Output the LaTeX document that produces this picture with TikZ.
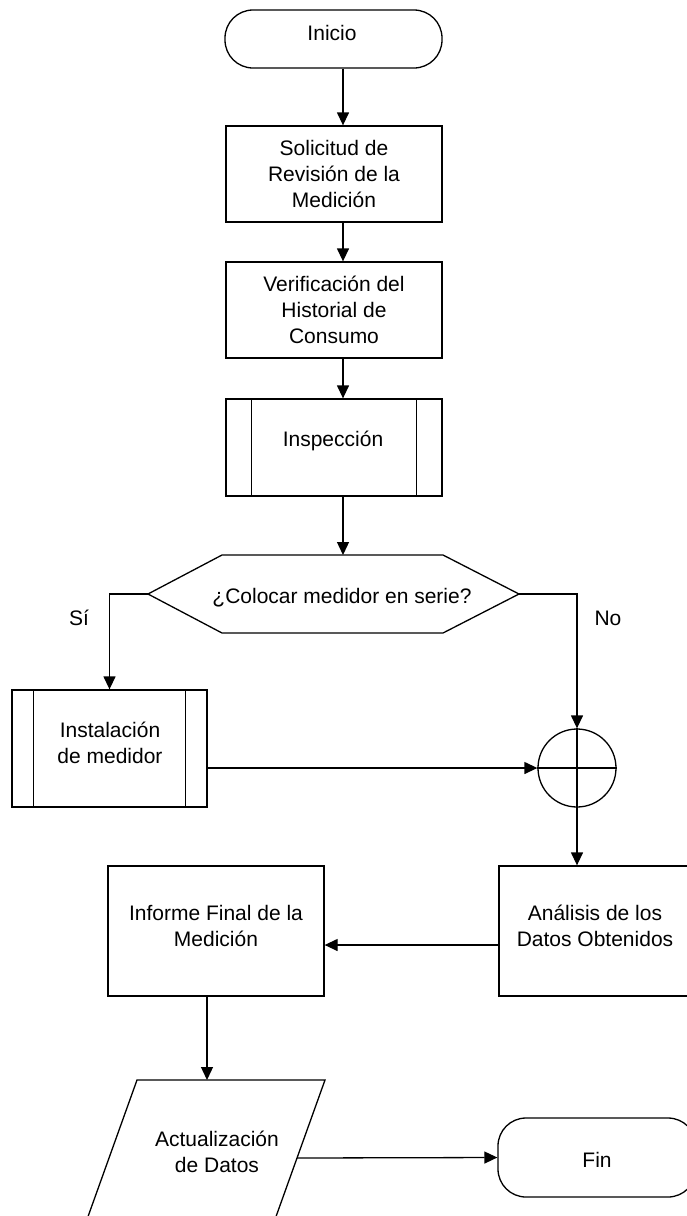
\documentclass[tikz,border=0pt]{standalone}
\usepackage{fontspec}
\setmainfont{Liberation Sans}
\usetikzlibrary{arrows.meta}
\begin{document}
\begin{tikzpicture}[x=1pt,y=-1pt,line width=1.3pt,
  arr/.style={-{Triangle[length=13pt,width=12pt]}},
  txt/.style={font=\fontsize{21}{26}\selectfont,align=center,inner sep=0pt},
  box/.style={draw,rectangle,inner sep=0pt,font=\fontsize{21}{26}\selectfont,align=center},
  term/.style={box,rounded corners=28pt}]
\useasboundingbox (0,0) rectangle (687,1216);
\coordinate (ax) at (343,0);
% nodes
\node[term,minimum width=217pt,minimum height=58pt] (inicio) at (333.5,39) {};
\node[txt] at (332,33) {Inicio};
\node[box,minimum width=216pt,minimum height=96pt] (solic) at (334,174) {Solicitud de\\Revisión de la\\Medición};
\node[box,minimum width=216pt,minimum height=96pt] (verif) at (334,310) {Verificación del\\Historial de\\Consumo};
\node[box,minimum width=216pt,minimum height=97pt] (insp) at (334,447.5) {};
\node[txt] at (333,441) {Inspección};
\draw ([xshift=26pt]insp.north west) -- ([xshift=26pt]insp.south west);
\draw ([xshift=-26pt]insp.north east) -- ([xshift=-26pt]insp.south east);
% decision
\coordinate (decL) at (148,594);
\coordinate (decR) at (519,594);
\coordinate (decT) at (343,555);
\draw (decL) -- (222,555) -- (443,555) -- (decR) -- (443,633) -- (222,633) -- cycle;
\node[txt] (dec) at (342,598) {¿Colocar medidor en serie?};
\node[txt] at (79,618) {Sí};
\node[txt] at (608,618) {No};
% instalacion
\node[box,minimum width=195pt,minimum height=117pt] (inst) at (109.5,748.5) {};
\node[txt] at (110,743) {Instalación\\de medidor};
\draw ([xshift=22pt]inst.north west) -- ([xshift=22pt]inst.south west);
\draw ([xshift=-22pt]inst.north east) -- ([xshift=-22pt]inst.south east);
% junction
\node[draw,circle,minimum size=78pt,inner sep=0pt] (circ) at (577,768) {};
\draw (circ.west) -- (circ.east);
\draw (circ.north) -- (circ.south);
% analysis and report
\node[box,minimum width=192pt,minimum height=130pt] (anal) at (595,931) {};
\node[txt] at (595,926) {Análisis de los\\Datos Obtenidos};
\node[box,minimum width=216pt,minimum height=130pt] (inf) at (216,931) {};
\node[txt] at (216,926) {Informe Final de la\\Medición};
% parallelogram
\coordinate (actT) at (207,1080);
\coordinate (actR) at (297,1158);
\draw (137,1080) -- (325,1080) -- (267.6,1240) -- (79.6,1240) -- cycle;
\node[txt] (act) at (217,1152) {Actualización\\de Datos};
% fin
\node[term,minimum width=198pt,minimum height=79pt] (fin) at (597,1157.5) {};
\node[txt] at (597,1160) {Fin};
% connectors
\draw[arr] (inicio.south -| ax) -- (solic.north -| ax);
\draw[arr] (solic.south -| ax) -- (verif.north -| ax);
\draw[arr] (verif.south -| ax) -- (insp.north -| ax);
\draw[arr] (insp.south -| ax) -- (decT);
\draw[arr] (decL) -| (inst.north);
\draw[arr] (decR) -| (circ.north);
\draw[arr] (inst.east |- circ.west) -- (circ.west);
\draw[arr] (circ.south) -- (anal.north -| circ.south);
\draw[arr] ([yshift=-14pt]anal.west) -- ([yshift=-14pt]inf.east);
\draw[arr] (inf.south -| actT) -- (actT);
\draw[arr] (actR) -- (fin.west);
\end{tikzpicture}
\end{document}
